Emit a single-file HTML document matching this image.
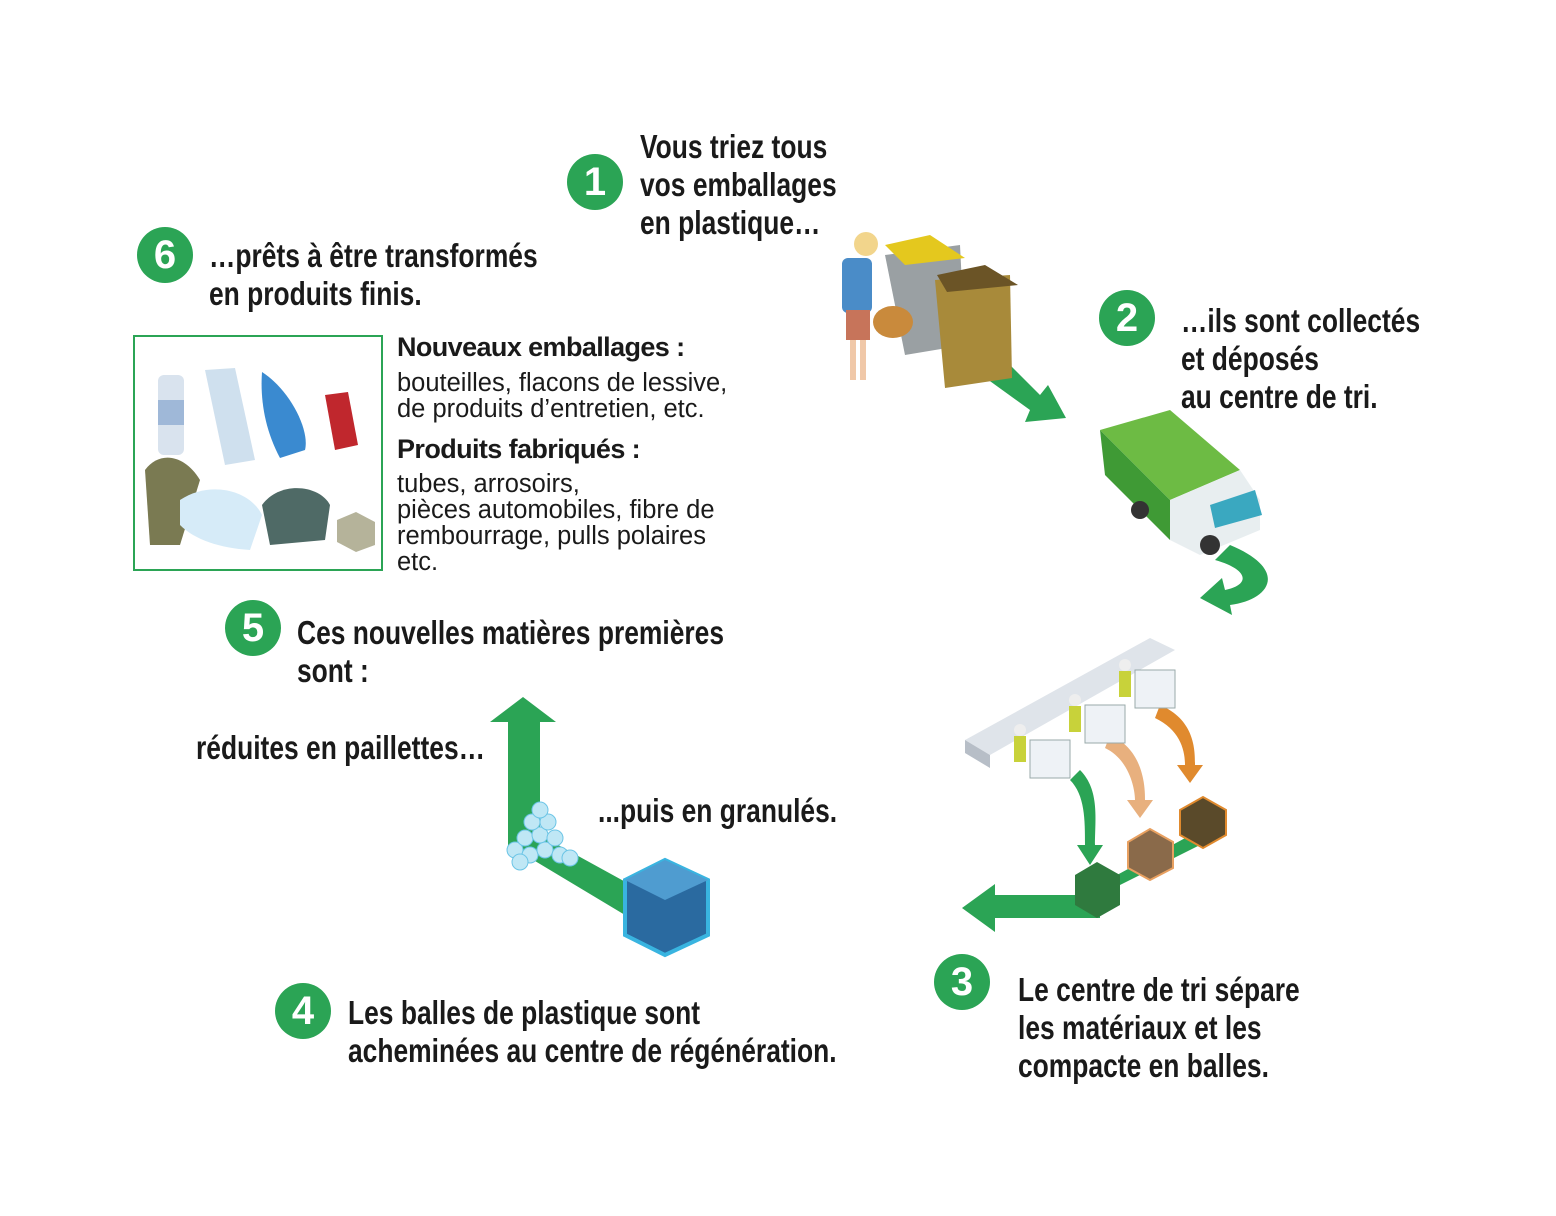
<!DOCTYPE html>
<html><head><meta charset="utf-8"><style>
body{margin:0;width:1556px;height:1216px;background:#fff;position:relative;overflow:hidden;font-family:"Liberation Sans",sans-serif;}
.t{position:absolute;font-family:"Liberation Sans",sans-serif;font-weight:bold;font-size:33px;line-height:38px;color:#1a1a1a;white-space:nowrap;transform:scaleX(0.8);transform-origin:0 0;}
.c{position:absolute;width:56px;height:56px;border-radius:50%;background:#2ba455;color:#fff;font-weight:bold;font-size:40px;line-height:56px;text-align:center;}
.h{position:absolute;font-weight:bold;font-size:27px;letter-spacing:-0.6px;color:#1a1a1a;white-space:nowrap;}
.b{position:absolute;font-size:25.5px;line-height:26px;color:#1a1a1a;white-space:nowrap;}
</style></head><body>
<svg width="1556" height="1216" style="position:absolute;left:0;top:0">
<g fill="#2ba455">
<polygon points="940,345 975,330 1040,395 1048,385 1066,418 1025,422 1030,410"/>
<path d="M1230,545 C1290,570 1270,600 1230,605 L1232,615 L1200,598 L1222,578 L1225,590 C1250,585 1250,570 1215,560 Z"/>
<polygon points="1100,895 1100,918 995,918 995,932 962,908 995,884 995,895"/>
<polygon points="640,890 625,915 525,855 508,845 508,722 490,722 523,697 556,722 540,722 540,835"/>
<path d="M1080,770 C1100,790 1095,820 1095,845 L1103,845 L1090,865 L1077,845 L1085,845 C1085,820 1085,795 1070,780 Z"/>
<path d="M1110,735 C1145,750 1145,790 1145,800 L1153,800 L1140,818 L1127,800 L1135,800 C1135,790 1130,760 1105,748 Z" fill="#e8b07e"/>
<path d="M1160,705 C1195,720 1195,750 1195,765 L1203,765 L1190,783 L1177,765 L1185,765 C1185,750 1180,730 1155,718 Z" fill="#e08a2e"/>
<polygon points="1080,895 1080,905 1210,840 1200,830"/>
</g>
<polygon points="885,255 960,245 965,345 905,355" fill="#9aa0a3"/>
<polygon points="885,245 930,235 965,258 905,265" fill="#e4c81e"/>
<polygon points="935,280 1010,275 1012,378 945,388" fill="#a88a3a"/>
<polygon points="937,275 985,265 1018,285 947,292" fill="#6b5426"/>
<circle cx="866" cy="244" r="12" fill="#f2d58c"/>
<rect x="842" y="258" width="30" height="55" rx="6" fill="#4a8cc8"/>
<rect x="846" y="310" width="24" height="30" fill="#c7745a"/>
<rect x="850" y="340" width="6" height="40" fill="#f0c8a8"/><rect x="860" y="340" width="6" height="40" fill="#f0c8a8"/>
<ellipse cx="893" cy="322" rx="20" ry="16" fill="#c98a3c"/>
<polygon points="1100,430 1170,410 1240,470 1170,500" fill="#6dbb44"/>
<polygon points="1100,430 1170,500 1170,540 1105,475" fill="#3f9a35"/>
<polygon points="1170,500 1240,470 1260,500 1260,530 1200,555 1170,540" fill="#e8eef0"/>
<polygon points="1210,505 1255,490 1262,515 1215,528" fill="#3aa8c0"/>
<circle cx="1140" cy="510" r="9" fill="#333"/><circle cx="1210" cy="545" r="10" fill="#333"/>
<polygon points="965,740 1150,638 1175,650 990,755" fill="#dfe4ea"/>
<polygon points="965,740 990,755 990,768 965,753" fill="#b7bec7"/>
<rect x="1030" y="740" width="40" height="38" fill="#eef2f6" stroke="#9aa"/>
<rect x="1085" y="705" width="40" height="38" fill="#eef2f6" stroke="#9aa"/>
<rect x="1135" y="670" width="40" height="38" fill="#eef2f6" stroke="#9aa"/>
<circle cx="1020" cy="730" r="6" fill="#eee"/><rect x="1014" y="736" width="12" height="26" fill="#c8d23a"/>
<circle cx="1075" cy="700" r="6" fill="#eee"/><rect x="1069" y="706" width="12" height="26" fill="#c8d23a"/>
<circle cx="1125" cy="665" r="6" fill="#eee"/><rect x="1119" y="671" width="12" height="26" fill="#c8d23a"/>
<polygon points="1075,875 1097,862 1120,875 1120,905 1097,918 1075,905" fill="#2f7a3e"/>
<polygon points="1128,842 1150,829 1173,842 1173,868 1150,880 1128,868" fill="#8a6a4a" stroke="#e8a060" stroke-width="2"/>
<polygon points="1180,810 1203,797 1226,810 1226,835 1203,848 1180,835" fill="#5a4a2a" stroke="#e08a2e" stroke-width="2"/>
<g fill="#bfe7f5" stroke="#6cc5e6">
<circle cx="515" cy="850" r="8"/><circle cx="530" cy="855" r="8"/><circle cx="545" cy="850" r="8"/><circle cx="560" cy="855" r="8"/><circle cx="525" cy="838" r="8"/><circle cx="540" cy="835" r="8"/><circle cx="555" cy="838" r="8"/><circle cx="532" cy="822" r="8"/><circle cx="548" cy="822" r="8"/><circle cx="540" cy="810" r="8"/><circle cx="570" cy="858" r="8"/><circle cx="520" cy="862" r="8"/>
</g>
<polygon points="625,880 665,860 708,880 708,935 665,955 625,935" fill="#2a6aa0" stroke="#39b4e0" stroke-width="4"/>
<polygon points="625,880 665,860 708,880 665,900" fill="#4f9cd0"/>
<rect x="158" y="375" width="26" height="80" rx="6" fill="#d9e3ee"/><rect x="158" y="400" width="26" height="25" fill="#9fb8d8"/>
<polygon points="205,370 235,368 255,460 225,465" fill="#cfe0ee"/>
<path d="M262,372 C290,390 310,430 305,450 L280,458 C265,430 260,400 262,372Z" fill="#3a8ad0"/>
<polygon points="325,395 348,392 358,445 335,450" fill="#c0272d"/>
<path d="M145,470 C160,450 185,455 200,480 L180,545 L150,545 Z" fill="#7a7a52"/>
<path d="M180,500 C210,480 250,490 262,515 L250,550 C220,548 195,540 180,525Z" fill="#d6ebf8"/>
<path d="M262,505 C280,480 320,485 330,505 L325,540 L270,545 Z" fill="#4f6a66"/>
<polygon points="337,520 356,512 375,522 375,545 356,552 337,542" fill="#b5b39a"/>
</svg>
<div style="position:absolute;left:133px;top:335px;width:246px;height:232px;border:2px solid #2ba455"></div>

<div class="c" style="left:567px;top:154px">1</div>
<div class="t" style="left:640px;top:128px">Vous triez tous<br>vos emballages<br>en plastique…</div>
<div class="c" style="left:137px;top:227px">6</div>
<div class="t" style="left:209px;top:237px">…prêts à être transformés<br>en produits finis.</div>
<div class="c" style="left:1099px;top:290px">2</div>
<div class="t" style="left:1181px;top:302px">…ils sont collectés<br>et déposés<br>au centre de tri.</div>
<div class="h" style="left:397px;top:332px">Nouveaux emballages :</div>
<div class="b" style="left:397px;top:370px">bouteilles, flacons de lessive,<br>de produits d’entretien, etc.</div>
<div class="h" style="left:397px;top:434px">Produits fabriqués :</div>
<div class="b" style="left:397px;top:471px">tubes, arrosoirs,<br>pièces automobiles, fibre de<br>rembourrage, pulls polaires<br>etc.</div>
<div class="c" style="left:225px;top:600px">5</div>
<div class="t" style="left:297px;top:614px">Ces nouvelles matières premières<br>sont :</div>
<div class="t" style="left:196px;top:729px">réduites en paillettes…</div>
<div class="t" style="left:598px;top:792px">...puis en granulés.</div>
<div class="c" style="left:275px;top:983px">4</div>
<div class="t" style="left:348px;top:994px">Les balles de plastique sont<br>acheminées au centre de régénération.</div>
<div class="c" style="left:934px;top:954px">3</div>
<div class="t" style="left:1018px;top:971px">Le centre de tri sépare<br>les matériaux et les<br>compacte en balles.</div>
</body></html>
